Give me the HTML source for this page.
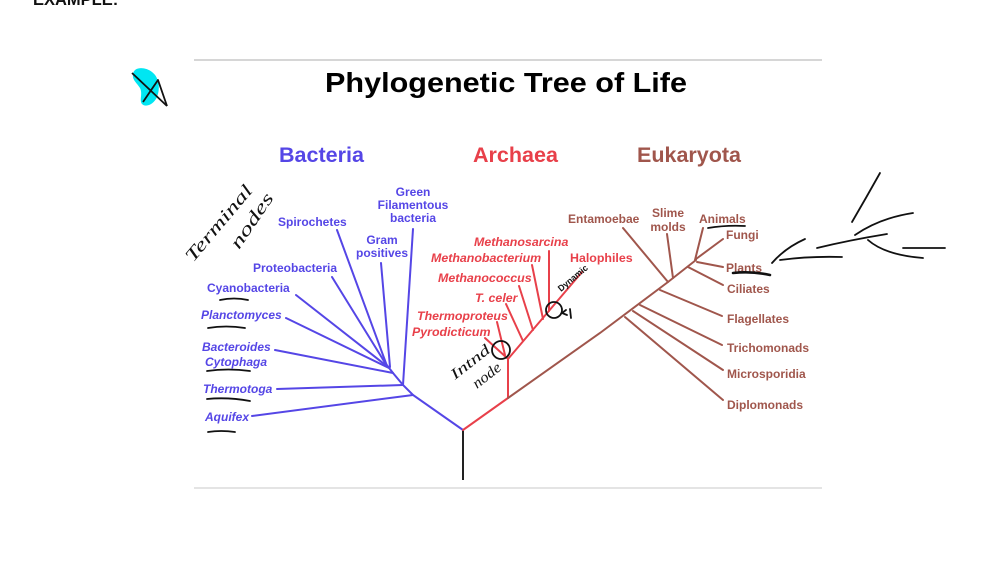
<!DOCTYPE html>
<html>
<head>
<meta charset="utf-8">
<style>
  html,body{margin:0;padding:0;background:#fff;}
  body{width:1000px;height:562px;overflow:hidden;}
  svg{display:block;}
  .b{fill:#5546e6;font-family:"Liberation Sans",Arial,sans-serif;font-weight:bold;font-size:12px;}
  .r{fill:#e8404a;font-family:"Liberation Sans",Arial,sans-serif;font-weight:bold;font-style:italic;font-size:12.4px;}
  .e{fill:#a0564c;font-family:"Liberation Sans",Arial,sans-serif;font-weight:bold;font-size:12px;}
  .i{font-style:italic;}
  .hw{fill:#111;font-family:"Liberation Serif",serif;font-style:italic;font-size:18px;}
</style>
</head>
<body>
<svg width="1000" height="562" viewBox="0 0 1000 562" xmlns="http://www.w3.org/2000/svg">
  <rect width="1000" height="562" fill="#fff"/>

  <!-- EXAMPLE: (clipped at top) -->
  <text x="33" y="5" font-family="Liberation Sans, Arial, sans-serif" font-weight="bold" font-size="16.5" fill="#111">EXAMPLE:</text>

  <!-- frame lines -->
  <line x1="194" y1="60" x2="822" y2="60" stroke="#d6d6d6" stroke-width="2"/>
  <line x1="194" y1="488" x2="822" y2="488" stroke="#e4e4e4" stroke-width="2"/>

  <!-- cyan blob with A mark -->
  <path d="M133,74 C134,66 146,67 152,72 C160,78 160,90 157,97 C154,104 146,108 142,104 C139,100 143,94 140,88 C137,83 132,80 133,74 Z" fill="#00e6f2"/>
  <path d="M132,73 L167,106" stroke="#111" stroke-width="1.8" fill="none"/>
  <path d="M143,102 L158,80 L167,106" stroke="#111" stroke-width="1.8" fill="none" stroke-linejoin="round"/>

  <!-- Title -->
  <text x="325" y="92" textLength="362" lengthAdjust="spacingAndGlyphs" font-family="Liberation Sans, Arial, sans-serif" font-weight="bold" font-size="28" fill="#000">Phylogenetic Tree of Life</text>

  <!-- Domain headings -->
  <text x="279" y="162" textLength="85" lengthAdjust="spacingAndGlyphs" font-family="Liberation Sans, Arial, sans-serif" font-weight="bold" font-size="21" fill="#5546e6">Bacteria</text>
  <text x="473" y="162" textLength="85" lengthAdjust="spacingAndGlyphs" font-family="Liberation Sans, Arial, sans-serif" font-weight="bold" font-size="21" fill="#e8404a">Archaea</text>
  <text x="637" y="162" textLength="104" lengthAdjust="spacingAndGlyphs" font-family="Liberation Sans, Arial, sans-serif" font-weight="bold" font-size="21" fill="#a0564c">Eukaryota</text>

  <!-- Root -->
  <line x1="463" y1="430" x2="463" y2="480" stroke="#222" stroke-width="2"/>

  <!-- Bacteria branches -->
  <g stroke="#5546e6" stroke-width="2" fill="none" stroke-linecap="round">
    <polyline points="463,430 413,395 403,385 393,373 386,364"/>
    <line x1="337" y1="230" x2="387" y2="366"/>
    <line x1="381" y1="263" x2="390" y2="367"/>
    <line x1="413" y1="229" x2="403" y2="385"/>
    <line x1="332" y1="277" x2="387" y2="366"/>
    <line x1="296" y1="295" x2="388" y2="367"/>
    <line x1="286" y1="318" x2="389" y2="368"/>
    <line x1="275" y1="350" x2="393" y2="373"/>
    <line x1="277" y1="389" x2="403" y2="385"/>
    <line x1="252" y1="416" x2="413" y2="395"/>
  </g>

  <!-- Archaea branches -->
  <g stroke="#e8404a" stroke-width="2" fill="none" stroke-linecap="round">
    <line x1="463" y1="430" x2="508" y2="398"/>
    <line x1="508" y1="398" x2="508" y2="359"/>
    <line x1="508" y1="359" x2="582" y2="272"/>
    <line x1="485" y1="338" x2="507" y2="358"/>
    <line x1="497" y1="322" x2="505" y2="355"/>
    <line x1="506" y1="304" x2="523" y2="341"/>
    <line x1="519" y1="286" x2="533" y2="330"/>
    <line x1="532" y1="265" x2="543" y2="319"/>
    <line x1="549" y1="251" x2="549" y2="311"/>
  </g>

  <!-- Eukaryota branches -->
  <g stroke="#a0564c" stroke-width="2" fill="none" stroke-linecap="round">
    <polyline points="508,398 600,333 668,282 696,260"/>
    <line x1="623" y1="228" x2="668" y2="282"/>
    <line x1="667" y1="234" x2="673" y2="278"/>
    <line x1="703" y1="228" x2="695" y2="260"/>
    <line x1="723" y1="239" x2="696" y2="259"/>
    <line x1="697" y1="262" x2="723" y2="267"/>
    <line x1="688" y1="267" x2="723" y2="285"/>
    <line x1="660" y1="290" x2="722" y2="316"/>
    <line x1="640" y1="305" x2="722" y2="345"/>
    <line x1="633" y1="311" x2="723" y2="370"/>
    <line x1="625" y1="317" x2="723" y2="400"/>
  </g>

  <!-- Bacteria labels -->
  <text class="b" x="413" y="196" text-anchor="middle">Green</text>
  <text class="b" x="413" y="209" text-anchor="middle">Filamentous</text>
  <text class="b" x="413" y="222" text-anchor="middle">bacteria</text>
  <text class="b" x="278" y="226">Spirochetes</text>
  <text class="b" x="382" y="244" text-anchor="middle">Gram</text>
  <text class="b" x="382" y="257" text-anchor="middle">positives</text>
  <text class="b" x="253" y="272">Proteobacteria</text>
  <text class="b" x="207" y="292">Cyanobacteria</text>
  <text class="b i" x="201" y="319">Planctomyces</text>
  <text class="b i" x="202" y="351">Bacteroides</text>
  <text class="b i" x="205" y="366">Cytophaga</text>
  <text class="b i" x="203" y="393">Thermotoga</text>
  <text class="b i" x="205" y="421">Aquifex</text>

  <!-- Archaea labels -->
  <text class="r" x="474" y="246">Methanosarcina</text>
  <text class="r" x="431" y="262">Methanobacterium</text>
  <text class="r" x="570" y="262" style="font-style:normal">Halophiles</text>
  <text class="r" x="438" y="282">Methanococcus</text>
  <text class="r" x="475" y="302">T. celer</text>
  <text class="r" x="417" y="320">Thermoproteus</text>
  <text class="r" x="412" y="336">Pyrodicticum</text>

  <!-- Eukaryota labels -->
  <text class="e" x="568" y="223">Entamoebae</text>
  <text class="e" x="668" y="217" text-anchor="middle">Slime</text>
  <text class="e" x="668" y="231" text-anchor="middle">molds</text>
  <text class="e" x="699" y="223">Animals</text>
  <text class="e" x="726" y="239">Fungi</text>
  <text class="e" x="726" y="272">Plants</text>
  <text class="e" x="727" y="293">Ciliates</text>
  <text class="e" x="727" y="323">Flagellates</text>
  <text class="e" x="727" y="352">Trichomonads</text>
  <text class="e" x="727" y="378">Microsporidia</text>
  <text class="e" x="727" y="409">Diplomonads</text>

  <!-- Handwritten annotations -->
  <text class="hw" transform="translate(193,263) rotate(-50)" textLength="94" lengthAdjust="spacingAndGlyphs">Terminal</text>
  <text class="hw" transform="translate(239,250) rotate(-56)" textLength="63" lengthAdjust="spacingAndGlyphs">nodes</text>

  <text class="hw" style="font-size:15px" transform="translate(455,380) rotate(-38)" textLength="46" lengthAdjust="spacingAndGlyphs">Intnd</text>
  <text class="hw" style="font-size:15px" transform="translate(477,389) rotate(-38)" textLength="32" lengthAdjust="spacingAndGlyphs">node</text>
  <text transform="translate(561,292) rotate(-40)" textLength="36" lengthAdjust="spacingAndGlyphs" font-family="Liberation Sans, Arial, sans-serif" font-weight="bold" font-size="9" fill="#111">Dynamic</text>

  <g stroke="#111" stroke-width="1.8" fill="none" stroke-linecap="round">
    <!-- circles -->
    <circle cx="501" cy="350" r="9"/>
    <circle cx="554" cy="310" r="8"/>
    <path d="M566,310 L562,313 L567,315"/>
    <path d="M570,309 L571,318"/>
    <!-- underlines -->
    <path d="M220,300 Q234,297 248,300"/>
    <path d="M208,328 Q226,325 245,328"/>
    <path d="M207,371 Q228,368 250,371"/>
    <path d="M207,399 Q228,397 250,401"/>
    <path d="M208,432 Q221,430 235,432"/>
    <path d="M708,228 Q726,225 745,226"/>
    <path d="M733,273 Q752,271 770,275" stroke-width="2.6"/>
    <!-- right-side sketch tree -->
    <path d="M880,173 Q866,198 852,222"/>
    <path d="M913,213 Q880,218 855,235"/>
    <path d="M887,234 Q850,240 817,248"/>
    <path d="M868,240 Q885,255 923,258"/>
    <path d="M903,248 L945,248"/>
    <path d="M805,239 Q785,248 772,263"/>
    <path d="M780,260 Q810,256 842,257"/>
  </g>
</svg>
</body>
</html>
